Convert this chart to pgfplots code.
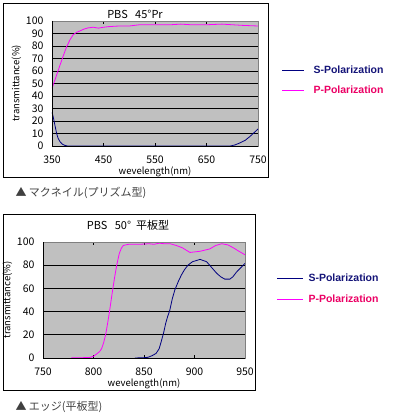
\documentclass[border=0pt]{standalone}
\usepackage{pgfplots}
\pgfplotsset{compat=1.18}
\usepackage{fontspec}
\setmainfont{Noto Sans CJK JP}
\newfontfamily\legfont{Liberation Sans}
\definecolor{pbg}{RGB}{192,192,192}
\definecolor{snavy}{RGB}{0,0,128}
\definecolor{pmag}{RGB}{255,0,255}
\definecolor{ptext}{RGB}{235,0,100}
\definecolor{stext}{RGB}{20,20,120}
\pgfplotsset{chartstyle/.style={
  scale only axis,
  axis background/.style={fill=pbg},
  axis line style={draw=none},
  ymajorgrids, grid style={black, line width=0.8pt},
  tick align=inside, major tick length=3pt,
  xtick style={black}, ytick style={draw=none},
  /pgf/number format/assume math mode=true,
  tick label style={font=\fontsize{10.5}{12}\selectfont},
  xticklabel style={yshift=-6pt},
  yticklabel style={xshift=-5pt},
  label style={font=\fontsize{9.5}{11}\selectfont},
  xlabel={wevelength(nm)},
  ylabel={transmittance(\%)},
  xlabel style={yshift=3pt},
  ylabel style={yshift=-2pt},
  every axis plot/.append style={line width=0.8pt},
  after end axis/.code={
    \draw[gray] (rel axis cs:0,0) rectangle (rel axis cs:1,1);
    \draw[black, line width=0.8pt] (rel axis cs:0,1)--(rel axis cs:0,0)--(rel axis cs:1,0);
  },
}}
\begin{document}
\begin{tikzpicture}[x=1pt,y=1pt]
\path[use as bounding box] (0,0) rectangle (398,416);
% frames
\draw[line width=0.6pt] (3,413) rectangle (268,239);
\draw[line width=0.6pt] (3,202) rectangle (255,26);
% top chart
\begin{axis}[chartstyle, at={(52pt,270pt)}, anchor=south west,
  width=206pt, height=125pt,
  xmin=350, xmax=750, ymin=0, ymax=100,
  xtick={350,450,550,650,750}, ytick={0,10,...,100}]
\addplot[snavy] coordinates {(350,27) (352,24) (355,18) (359,10) (362,6) (365.5,3.5) (370,1.5) (375,0.5) (380,0) (500,0) (600,0) (696,0) (705,0.8) (715,2.5) (725,4.5) (734,7.5) (742,10.5) (750,13.6)};
\addplot[pmag] coordinates {(350,46) (355,52) (360,58) (365,64) (370,70) (378,79) (385,85) (391,89) (398,91) (404,92) (412,93.5) (420,94.5) (430,95) (440,94.3) (450,95) (460,95.5) (480,96) (500,96) (520,97) (550,97) (580,97) (600,97.5) (620,97) (650,97) (680,97.5) (700,97) (720,96.5) (750,96)};
\end{axis}
\node[font=\fontsize{11}{13}\selectfont] at (135,402) {PBS\ \ \ 45°Pr};
% bottom chart
\begin{axis}[chartstyle, at={(43pt,58pt)}, anchor=south west,
  width=202pt, height=116pt,
  xmin=750, xmax=950, ymin=0, ymax=100,
  xtick={750,800,850,900,950}, ytick={0,20,...,100}]
\addplot[snavy] coordinates {(841,0) (850,0.3) (854,0.6) (858,2) (862,4) (865,8) (867,14) (869.5,22) (871.5,30) (873.5,36) (875.5,41) (878,51) (880.5,58.6) (884,66) (887,71.5) (890,76) (893.5,80) (898,83) (905.5,85) (912,83) (917,78) (922,73) (926,70) (930,68) (935,68) (938,70) (941.5,74) (946,78) (950,81.6)};
\addplot[pmag] coordinates {(778,0.3) (790,0.3) (796.5,0.5) (800,1.5) (803,3.4) (806,5.5) (808,8) (810,13) (812,20) (814,30) (816,41) (818.5,56) (821,70) (823,80) (825.5,90) (827.5,94.5) (829.5,97) (834.5,98) (845,98) (855,98.5) (860,98) (865,99) (870,98.5) (876,98.5) (882,97) (888,95) (895.5,91) (905.5,92) (915,94) (921,97) (927,98.5) (933,97.5) (938.5,95) (944,92) (950,89)};
\end{axis}
\node[font=\fontsize{11}{13}\selectfont] at (128,191) {PBS\ \ \ 50°\ \ 平板型};
% legends
\draw[snavy, line width=0.8pt] (282,346) -- (304,346);
\node[anchor=west, text=stext, font=\legfont\bfseries\fontsize{10.5}{12}\selectfont] at (310,346) {S-Polarization};
\draw[pmag, line width=0.6pt] (282,326) -- (304,326);
\node[anchor=west, text=ptext, font=\legfont\bfseries\fontsize{10.5}{12}\selectfont] at (310,326) {P-Polarization};
\draw[snavy, line width=0.8pt] (277,138) -- (303,138);
\node[anchor=west, text=stext, font=\legfont\bfseries\fontsize{10.5}{12}\selectfont] at (305,138) {S-Polarization};
\draw[pmag, line width=0.6pt] (277,117) -- (303,117);
\node[anchor=west, text=ptext, font=\legfont\bfseries\fontsize{10.5}{12}\selectfont] at (305,117) {P-Polarization};
% captions
\node[anchor=west, font=\fontsize{11}{13}\selectfont, text=black!75] at (12,223) {▲ マクネイル(プリズム型)};
\node[anchor=west, font=\fontsize{11}{13}\selectfont, text=black!75] at (12,9) {▲ エッジ(平板型)};
\end{tikzpicture}
\end{document}
